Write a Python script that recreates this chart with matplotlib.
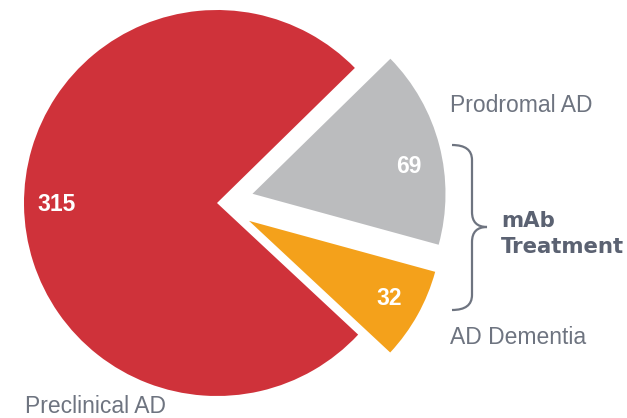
import numpy as np
import matplotlib.pyplot as plt
from matplotlib.path import Path
import matplotlib.patches as mpatches

stages: list[str] = ['Preclinical AD', 'Prodromal AD', 'AD Dementia']
counts: list[int] = [315, 69, 32]
colors: list[str] = ['#CF323A', '#BBBCBE', '#F4A11B']
explode_frac: list[float] = [0.0, 0.19, 0.19]
bracket_label: str = 'mAb\nTreatment'

label_color = '#6E7480'
radius = 193

fig = plt.figure(figsize=(6.27, 4.18), dpi=100)
ax = fig.add_axes([0, 0, 1, 1])

# pie drawn in pixel-like units so the layout can be placed freely
# (explode is in data units, so scale it by the radius)
wedges, texts, autotexts = ax.pie(
    counts, colors=colors, explode=[e * radius for e in explode_frac],
    center=(217, 215), radius=radius,
    startangle=317, counterclock=False, pctdistance=0.83,
    autopct=lambda p: f'{round(p * sum(counts) / 100):d}',
    wedgeprops=dict(linewidth=0),
    textprops=dict(color='white', fontsize=16.5, fontweight='bold', family='Liberation Sans'))

# the "69" sits a bit lower than the wedge midline in the original
cx, cy = wedges[1].center
a = np.deg2rad(10)
autotexts[1].set_position((cx + 0.82 * radius * np.cos(a), cy + 0.82 * radius * np.sin(a)))

ax.set_xlim(0, 627)
ax.set_ylim(0, 418)
ax.set_aspect('equal')
ax.axis('off')

ax.text(25, 5, stages[0], fontsize=16.5, color=label_color, family='Liberation Sans', va='baseline')
ax.text(450, 306, stages[1], fontsize=16.5, color=label_color, family='Liberation Sans', va='baseline')
ax.text(450, 74, stages[2], fontsize=16.5, color=label_color, family='Liberation Sans', va='baseline')
ax.text(501, 184, bracket_label, fontsize=15.3, color='#5B6272', fontweight='bold',
        family='DejaVu Sans', va='center', linespacing=1.4)

# curly brace
top, mid, bot = 418 - 145, 418 - 227, 418 - 310
xl, xm, xr = 452, 472, 487
verts = [(xl, top), (xm, top), (xm, top - 15),
         (xm, mid + 15),
         (xm, mid), (xr, mid),
         (xm, mid), (xm, mid - 15),
         (xm, bot + 15),
         (xm, bot), (xl, bot)]
codes = [Path.MOVETO, Path.CURVE3, Path.CURVE3,
         Path.LINETO,
         Path.CURVE3, Path.CURVE3,
         Path.CURVE3, Path.CURVE3,
         Path.LINETO,
         Path.CURVE3, Path.CURVE3]
ax.add_patch(mpatches.PathPatch(Path(verts, codes), facecolor='none', edgecolor=label_color, linewidth=1.6))

plt.savefig('out.png', dpi=100)
